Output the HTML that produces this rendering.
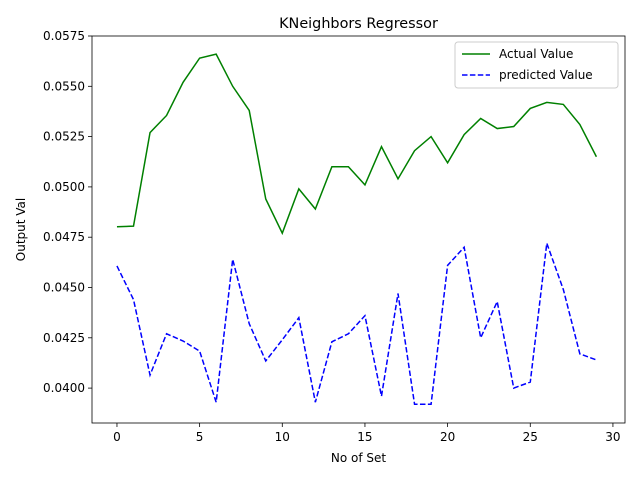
<!DOCTYPE html>
<html><head><meta charset="utf-8"><style>
body{margin:0;background:#fff;font-family:"Liberation Sans","DejaVu Sans",sans-serif}
svg text{font-family:"DejaVu Sans","Liberation Sans",sans-serif;fill:#000}
</style></head><body>
<svg id="chart" width="640" height="480"></svg>
<script>
const xCats=[...Array(30).keys()];
const actualValues=[0.04802,0.04805,0.0527,0.05355,0.0552,0.0564,0.0566,0.0550,0.0538,0.0494,0.0477,0.0499,0.0489,0.0510,0.0510,0.0501,0.0520,0.0504,0.0518,0.0525,0.0512,0.0526,0.0534,0.0529,0.0530,0.0539,0.0542,0.0541,0.0531,0.0515];
const predictedValues=[0.04607,0.0444,0.04065,0.0427,0.04234,0.04184,0.0393,0.0464,0.0432,0.04135,0.0424,0.0435,0.0393,0.0423,0.0427,0.0436,0.0396,0.0447,0.0392,0.0392,0.0461,0.0470,0.0425,0.0443,0.0400,0.0403,0.0472,0.0449,0.0417,0.0414];
const xTicks=[0,5,10,15,20,25,30];
const yTicks=[0.0400,0.0425,0.0450,0.0475,0.0500,0.0525,0.0550,0.0575];
const L=92,R=625,T=36,B=423;
const xMin=-1.51,xMax=30.73,yMax=0.0575,yMin=0.0575-(B-T)/50.3*0.0025;
const sx=v=>L+(v-xMin)/(xMax-xMin)*(R-L);
const sy=v=>B-(v-yMin)/(yMax-yMin)*(B-T);
const svg=document.getElementById('chart');const NS='http://www.w3.org/2000/svg';
function mk(t,a,txt){const e=document.createElementNS(NS,t);for(const k in a)e.setAttribute(k,a[k]);if(txt!==undefined)e.textContent=txt;svg.appendChild(e);return e;}
let e;
xTicks.forEach(v=>{const x=sx(v);
e=mk('line',{x1:x,x2:x,y1:B,y2:B+4,stroke:'#000','stroke-width':0.8});


e=mk('text',{x:x,y:B+18,'font-size':12,'text-anchor':'middle'},String(v));

});
yTicks.forEach(v=>{const y=sy(v);
e=mk('line',{x1:L-4,x2:L,y1:y,y2:y,stroke:'#000','stroke-width':0.8});


e=mk('text',{x:L-7,y:y+4,'font-size':12,'text-anchor':'end'},v.toFixed(4));

});
function series(vals,color,dash,name){const pts=vals.map((v,i)=>sx(xCats[i])+','+sy(v)).join(' ');
const a={points:pts,fill:'none',stroke:color,'stroke-width':1.5};if(dash)a['stroke-dasharray']=dash;
e=mk('polyline',a);

}
series(actualValues,'#008000',null,'actual-value-line');
series(predictedValues,'#0000ff','5.5,2.4','predicted-value-line');
e=mk('rect',{x:L,y:T,width:R-L,height:B-T,fill:'none',stroke:'#000','stroke-width':0.8});


e=mk('text',{x:(L+R)/2,y:T-8,'font-size':14.4,'text-anchor':'middle'},'KNeighbors Regressor');


e=mk('text',{x:(L+R)/2,y:462,'font-size':12,'text-anchor':'middle'},'No of Set');


e=mk('text',{x:25,y:(T+B)/2,'font-size':12,'text-anchor':'middle',transform:'rotate(-90 25 '+(T+B)/2+')'},'Output Val');


e=mk('rect',{x:455,y:42,width:163,height:46,rx:3,fill:'#fff',stroke:'#ccc','stroke-width':1});


e=mk('line',{x1:462,x2:490,y1:54,y2:54,stroke:'#008000','stroke-width':1.5});


e=mk('text',{x:499,y:58,'font-size':12},'Actual Value');


e=mk('line',{x1:462,x2:490,y1:75,y2:75,stroke:'#0000ff','stroke-width':1.5,'stroke-dasharray':'5.5,2.4'});


e=mk('text',{x:499,y:79,'font-size':12},'predicted Value');


</script>
</body></html>
